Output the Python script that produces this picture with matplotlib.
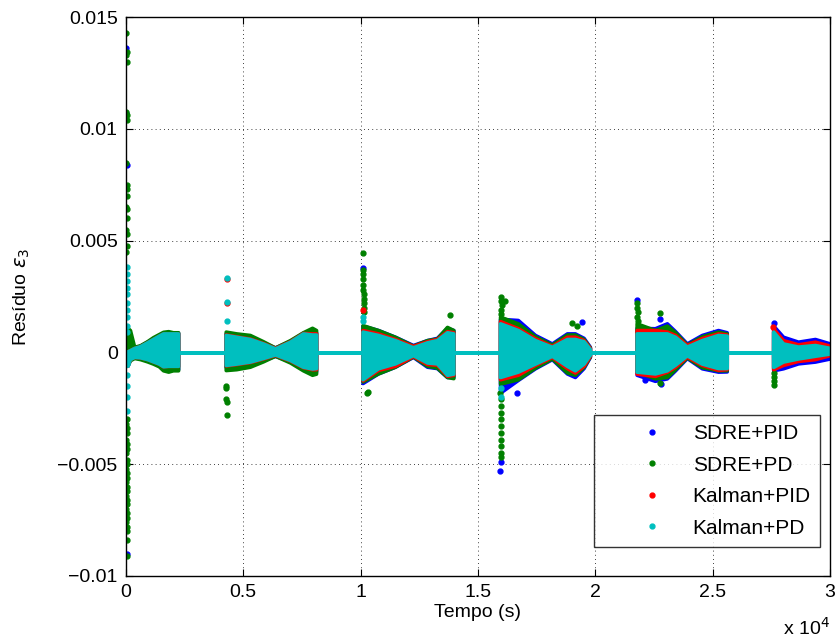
import numpy as np
import matplotlib
matplotlib.use("Agg")
import matplotlib.pyplot as plt
from matplotlib.lines import Line2D
from matplotlib.ticker import FuncFormatter

plt.rcParams["font.family"] = ["Liberation Sans", "DejaVu Sans"]
plt.rcParams["mathtext.fontset"] = "dejavusans"

# envelope knots of the residual (values below in units of 1e-3)
t_knots = [60, 170, 350, 600, 900, 1150, 1400, 1580, 1800, 2000, 2220, 2221,
           4250, 4251, 4700, 5280, 5840, 6350, 6990, 7540, 7930, 8100, 8101,
           10080, 10081, 10740, 11460, 12230, 12830, 13250, 13680, 13950, 13951,
           15940, 15941, 16700, 17430, 18150, 18790, 19130, 19500, 19770, 19771,
           21760, 21761, 22540, 23050, 23400, 23900, 24540, 25230, 25600, 25601,
           27580, 27581, 28000, 28640, 29360, 30000]

sdre_pid_up = [0.1, 0.15, 0.22, 0.3, 0.48, 0.63, 0.78, 0.88, 0.9, 0.88, 0.88, 0,
               0, 0.85, 0.75, 0.65, 0.45, 0.22, 0.52, 0.88, 0.95, 0.9, 0,
               0, 1.2, 1.0, 0.7, 0.33, 0.55, 0.65, 1.1, 1.0, 0,
               0, 1.5, 1.45, 0.78, 0.4, 0.85, 0.85, 0.65, 0.25, 0,
               0, 1.1, 1.08, 1.3, 0.95, 0.4, 0.78, 1.0, 0.9, 0,
               0, 1.2, 0.7, 0.48, 0.6, 0.4]
sdre_pid_lo = [-0.6, -0.32, -0.22, -0.26, -0.35, -0.45, -0.55, -0.7, -0.75, -0.75, -0.75, 0,
               0, -0.65, -0.6, -0.5, -0.35, -0.15, -0.4, -0.7, -0.9, -0.85, 0,
               0, -1.37, -0.94, -0.64, -0.2, -0.64, -0.7, -1.1, -1.1, 0,
               0, -1.8, -1.23, -0.71, -0.3, -0.94, -1.1, -0.7, -0.2, 0,
               0, -1.0, -1.27, -1.16, -0.8, -0.25, -0.71, -0.86, -0.85, 0,
               0, -0.8, -0.71, -0.49, -0.41, -0.27]

sdre_pd_up = [1.1, 1.0, 0.25, 0.32, 0.5, 0.68, 0.82, 0.92, 0.95, 0.9, 0.9, 0,
              0, 0.93, 0.85, 0.78, 0.5, 0.22, 0.55, 0.9, 1.1, 1.0, 0,
              0, 1.22, 1.0, 0.7, 0.3, 0.55, 0.62, 1.14, 1.0, 0,
              0, 1.6, 1.3, 0.72, 0.35, 0.8, 0.8, 0.6, 0.22, 0,
              0, 1.3, 1.0, 1.2, 0.9, 0.35, 0.72, 0.93, 0.85, 0,
              0, 0.93, 0.4, 0.26, 0.33, 0.2]
sdre_pd_lo = [-0.6, -0.35, -0.25, -0.3, -0.4, -0.5, -0.62, -0.8, -0.86, -0.8, -0.8, 0,
              0, -0.79, -0.75, -0.64, -0.4, -0.15, -0.45, -0.8, -1.0, -0.95, 0,
              0, -1.3, -0.94, -0.64, -0.18, -0.6, -0.68, -1.1, -1.15, 0,
              0, -1.4, -1.2, -0.68, -0.27, -0.9, -1.0, -0.65, -0.18, 0,
              0, -0.86, -1.16, -1.1, -0.75, -0.22, -0.66, -0.8, -0.8, 0,
              0, -0.7, -0.41, -0.27, -0.15, -0.05]

kalman_pid_up = [0.05, 0.1, 0.2, 0.28, 0.45, 0.6, 0.75, 0.85, 0.85, 0.85, 0.85, 0,
                 0, 0.8, 0.72, 0.62, 0.42, 0.2, 0.5, 0.87, 0.85, 0.85, 0,
                 0, 1.0, 0.85, 0.6, 0.29, 0.5, 0.6, 0.95, 0.9, 0,
                 0, 1.4, 1.08, 0.63, 0.29, 0.7, 0.7, 0.55, 0.2, 0,
                 0, 1.0, 1.0, 0.93, 0.78, 0.33, 0.64, 0.85, 0.8, 0,
                 0, 1.07, 0.55, 0.36, 0.48, 0.3]
kalman_pid_lo = [-0.6, -0.3, -0.2, -0.22, -0.3, -0.4, -0.5, -0.62, -0.6, -0.6, -0.6, 0,
                 0, -0.58, -0.52, -0.43, -0.27, -0.11, -0.36, -0.66, -0.75, -0.75, 0,
                 0, -1.25, -0.78, -0.6, -0.16, -0.52, -0.55, -1.05, -1.0, 0,
                 0, -1.2, -1.0, -0.56, -0.2, -0.7, -0.9, -0.6, -0.15, 0,
                 0, -0.95, -1.05, -0.86, -0.64, -0.19, -0.56, -0.78, -0.75, 0,
                 0, -0.75, -0.56, -0.38, -0.3, -0.12]

kalman_pd_up = [0.05, 0.1, 0.2, 0.28, 0.45, 0.6, 0.75, 0.85, 0.85, 0.85, 0.85, 0,
                0, 0.78, 0.7, 0.6, 0.4, 0.18, 0.48, 0.85, 0.8, 0.8, 0,
                0, 0.93, 0.78, 0.55, 0.23, 0.45, 0.55, 0.9, 0.85, 0,
                0, 1.3, 1.0, 0.55, 0.25, 0.6, 0.6, 0.5, 0.15, 0,
                0, 0.85, 0.85, 0.85, 0.7, 0.26, 0.55, 0.78, 0.75, 0,
                0, 0.93, 0.4, 0.26, 0.33, 0.2]
kalman_pd_lo = [-0.6, -0.3, -0.2, -0.22, -0.3, -0.4, -0.5, -0.62, -0.6, -0.6, -0.6, 0,
                0, -0.56, -0.5, -0.41, -0.25, -0.09, -0.34, -0.64, -0.72, -0.7, 0,
                0, -1.2, -0.71, -0.49, -0.12, -0.45, -0.49, -1.0, -0.95, 0,
                0, -1.1, -0.86, -0.5, -0.15, -0.6, -0.8, -0.5, -0.1, 0,
                0, -0.86, -0.94, -0.8, -0.55, -0.13, -0.5, -0.7, -0.7, 0,
                0, -0.65, -0.41, -0.27, -0.15, -0.05]

# isolated transient points (time in s, value in 1e-3)
sdre_pid_spk_t = [10, 20, 30, 40, 10120, 15960, 15980, 16650, 19430, 21770, 22120, 22770, 22800, 27600]
sdre_pid_spk_v = [13.6, 10.7, 8.4, -9.0, 3.76, -5.3, -4.9, -1.83, 1.36, 2.34, -1.23, 1.5, -1.4, 1.3]

sdre_pd_spk_t = [20, 25, 15, 30, 20, 35, 25, 20, 30, 25, 35, 20, 30, 25, 20, 30, 25,
                 20, 25, 30, 20, 25, 30, 20, 25, 30, 20, 25, 30, 20, 25, 30, 25,
                 20, 25, 30, 20, 25, 30, 20, 25, 30, 20, 25, 30,
                 4280, 4280, 4280, 4290, 4290,
                 10110, 10110, 10110, 10120, 10120, 10120, 10130, 10130, 10130, 10130, 10140,
                 10250, 10300, 13800,
                 15970, 16000, 16020, 16000, 15990, 16150,
                 15960, 15980, 15970, 15990, 15980, 15970, 15990, 15980, 15970, 15980, 15990,
                 19000, 19200,
                 21780, 21790, 21800, 21790, 21800, 22770, 22770,
                 27600, 27600, 27610, 27600]
sdre_pd_spk_v = [14.3, 13.45, 13.3, 13.0, 10.77, 10.6, 10.4, 8.46, 7.5, 7.3, 7.0, 6.5, 6.4, 6.0, 5.47, 5.3, 4.76,
                 4.48, -3.0, -3.4, -3.9, -4.3, -4.8, -5.2, -5.6, -6.0, -6.4, -6.8, -7.2, -7.6, -8.0, -8.4, -9.1,
                 -3.2, -3.6, -4.1, -4.5, -5.0, -5.4, -5.8, -6.2, -6.6, -7.0, -7.4, -7.8,
                 -1.5, -1.6, -2.1, -2.2, -2.8,
                 4.43, 3.7, 3.5, 3.3, 3.0, 2.8, 2.6, 2.4, 2.2, 2.0, 1.8,
                 -1.83, -1.75, 1.67,
                 2.5, 2.3, 2.1, 1.9, 1.7, 2.3,
                 -1.8, -2.1, -2.4, -2.7, -3.0, -3.3, -3.6, -3.9, -4.2, -4.5, -4.7,
                 1.3, 1.2,
                 2.2, 2.0, 1.8, 1.6, 1.4, 1.76, -1.37,
                 -0.9, -1.1, -1.3, -1.46]

kalman_pid_spk_t = [4290, 4290, 10110, 27590]
kalman_pid_spk_v = [3.3, 2.2, 1.9, 1.15]

kalman_pd_spk_t = [30, 35, 30, 35, 30, 35, 30, 35, 30, 35, 40, 35, 40, 35, 40,
                   4290, 4290, 4290, 10120, 10120, 15970, 15980]
kalman_pd_spk_v = [3.83, 3.5, 3.2, 2.9, 2.6, 2.2, 1.9, 1.6, 1.2, 0.9, -0.5, -1.0, -1.5, -2.0, -2.6,
                   3.34, 2.27, 1.42, 1.6, 1.4, -1.6, -2.0]

series_names = ["SDRE+PID", "SDRE+PD", "Kalman+PID", "Kalman+PD"]
series_colors = ["#0000ff", "#008000", "#ff0000", "#00bfbf"]

xticks = [0, 5000, 10000, 15000, 20000, 25000, 30000]
xtick_labels = ["0", "0.5", "1", "1.5", "2", "2.5", "3"]
yticks = [-0.01, -0.005, 0, 0.005, 0.01, 0.015]


def draw_series(ax, up, lo, spk_t, spk_v, color):
    t = np.array(t_knots, dtype=float)
    ax.fill_between(t, np.array(lo) * 1e-3, np.array(up) * 1e-3,
                    facecolor=color, edgecolor=color, linewidth=2.6,
                    joinstyle="round", zorder=2)
    ax.plot(spk_t, np.array(spk_v) * 1e-3, ".", color=color, ms=7, zorder=2)


fig = plt.figure(figsize=(8.37, 6.40), dpi=100)
ax = fig.add_axes([0.1505, 0.1, 0.8411, 0.8734])

envelopes = [
    (sdre_pid_up, sdre_pid_lo, sdre_pid_spk_t, sdre_pid_spk_v),
    (sdre_pd_up, sdre_pd_lo, sdre_pd_spk_t, sdre_pd_spk_v),
    (kalman_pid_up, kalman_pid_lo, kalman_pid_spk_t, kalman_pid_spk_v),
    (kalman_pd_up, kalman_pd_lo, kalman_pd_spk_t, kalman_pd_spk_v),
]
for (up, lo, st, sv), color in zip(envelopes, series_colors):
    draw_series(ax, up, lo, st, sv, color)

ax.set_xlim(0, 30000)
ax.set_ylim(-0.01, 0.015)
ax.set_xticks(xticks)
ax.set_xticklabels(xtick_labels)
ax.set_yticks(yticks)
ax.yaxis.set_major_formatter(FuncFormatter(lambda v, p: ("%g" % v).replace("-", "\u2212")))
ax.tick_params(direction="in", top=True, right=True, length=5, width=0.8, labelsize=14, pad=6)
ax.grid(True, color="black", linestyle=(0, (1, 4)), linewidth=0.6)
ax.set_axisbelow(True)
for s in ax.spines.values():
    s.set_linewidth(1.0)

ax.set_xlabel("Tempo (s)", fontsize=14, labelpad=2)
ax.set_ylabel("Resíduo $\\varepsilon_3$", fontsize=14, labelpad=18)
ax.text(1.0, -0.093, "x 10$^4$", transform=ax.transAxes, ha="right", va="center", fontsize=14)

handles = [Line2D([], [], marker=".", linestyle="none", color=c, ms=7) for c in series_colors]
leg = ax.legend(handles, series_names, loc="lower right", bbox_to_anchor=(0.986, 0.052),
                fontsize=15, frameon=True, fancybox=False, edgecolor="black",
                borderpad=0.45, handletextpad=-0.34, handlelength=4.6, labelspacing=0.6,
                borderaxespad=0)
leg.get_frame().set_linewidth(1.0)

fig.savefig("out.png", dpi=100)
